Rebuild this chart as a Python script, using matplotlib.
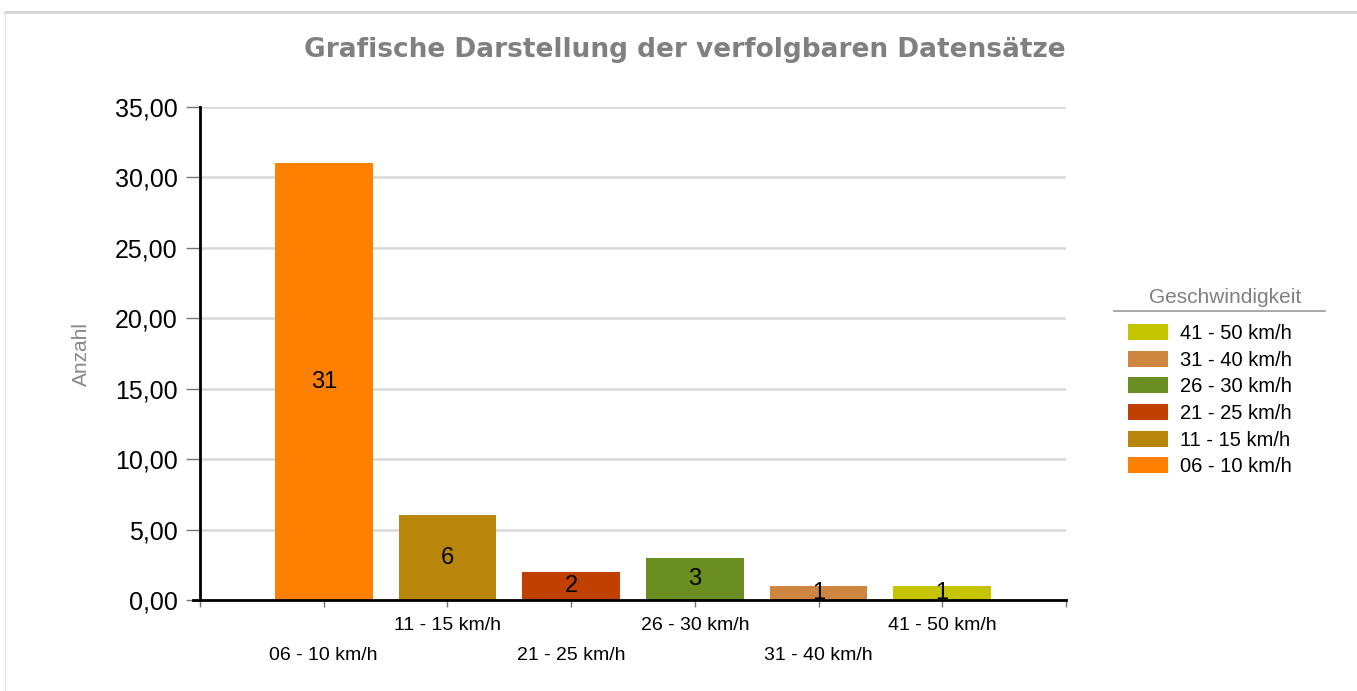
import matplotlib.pyplot as plt
from matplotlib.patches import Patch
from matplotlib.lines import Line2D

plt.rcParams["font.family"] = ["Liberation Sans", "DejaVu Sans"]

categories = ["06 - 10 km/h", "11 - 15 km/h", "21 - 25 km/h",
              "26 - 30 km/h", "31 - 40 km/h", "41 - 50 km/h"]
counts = [31, 6, 2, 3, 1, 1]
colors = ["#FF8000", "#B8860B", "#C04000", "#6B8E23", "#CD853F", "#C4C400"]
y_ticks = [0, 5, 10, 15, 20, 25, 30, 35]

fig = plt.figure(figsize=(13.57, 6.91), dpi=100)
ax = fig.add_axes([200 / 1357, 1 - 600 / 691, 866 / 1357, 493 / 691])

# light frame of the page (top and left)
fig.add_artist(Line2D([5 / 1357, 1], [1 - 12 / 691, 1 - 12 / 691], color="#d4d4d4", lw=2))
fig.add_artist(Line2D([5 / 1357, 5 / 1357], [0, 1 - 12 / 691], color="#e6e6e6", lw=1))

xpos = list(range(1, len(counts) + 1))
ax.bar(xpos, counts, width=0.79, color=colors, zorder=2)
for x, v in zip(xpos, counts):
    ax.text(x, v / 2, str(v), ha="center", va="center", fontsize=17, color="black", zorder=3)

ax.set_xlim(0, len(counts) + 1)
ax.set_ylim(0, 35)
ax.set_yticks(y_ticks)
ax.set_yticklabels([f"{t:.2f}".replace(".", ",") for t in y_ticks], fontsize=18)
ax.yaxis.grid(True, color="#d9d9d9", lw=1.8, zorder=0)
ax.tick_params(axis="y", length=10, width=1, color="#777777", pad=6)

ax.set_xticks(range(0, len(counts) + 2))
ax.set_xticklabels([])
ax.tick_params(axis="x", length=5, width=1, color="#777777")
for i, (x, lab) in enumerate(zip(xpos, categories)):
    yoff = -40 if i % 2 == 0 else -18.5
    ax.annotate(lab, (x, 0), xytext=(0, yoff), textcoords="offset points",
                ha="center", va="center", fontsize=14, color="black")

for side in ["top", "right"]:
    ax.spines[side].set_visible(False)
ax.spines["left"].set_linewidth(2)
ax.spines["bottom"].set_linewidth(2)
fig.add_artist(Line2D([193 / 1357, 200 / 1357], [1 - 600 / 691, 1 - 600 / 691],
                      color="black", lw=2))

ax.set_ylabel("Anzahl", fontsize=15, color="#888888", labelpad=17)

fig.text(685 / 1357, 1 - 50 / 691, "Grafische Darstellung der verfolgbaren Datensätze",
         ha="center", va="center", fontsize=19, fontweight="bold", color="#808080",
         family="DejaVu Sans")

# legend with a centred, underlined title
fig.text(1225 / 1357, 1 - 297 / 691, "Geschwindigkeit", ha="center", va="center",
         fontsize=15, color="#808080")
fig.add_artist(Line2D([1114 / 1357, 1325 / 1357], [1 - 311 / 691, 1 - 311 / 691],
                      color="#999999", lw=1.2))
handles = [Patch(facecolor=c) for c in colors[::-1]]
leg = fig.legend(handles, categories[::-1],
                 loc="upper left", bbox_to_anchor=(1114 / 1357, 1 - 310 / 691),
                 frameon=False, fontsize=14.5,
                 handlelength=2.0, handleheight=0.85, labelspacing=0.38,
                 handletextpad=0.6, borderpad=0.2)

fig.savefig("out.png", dpi=100)
